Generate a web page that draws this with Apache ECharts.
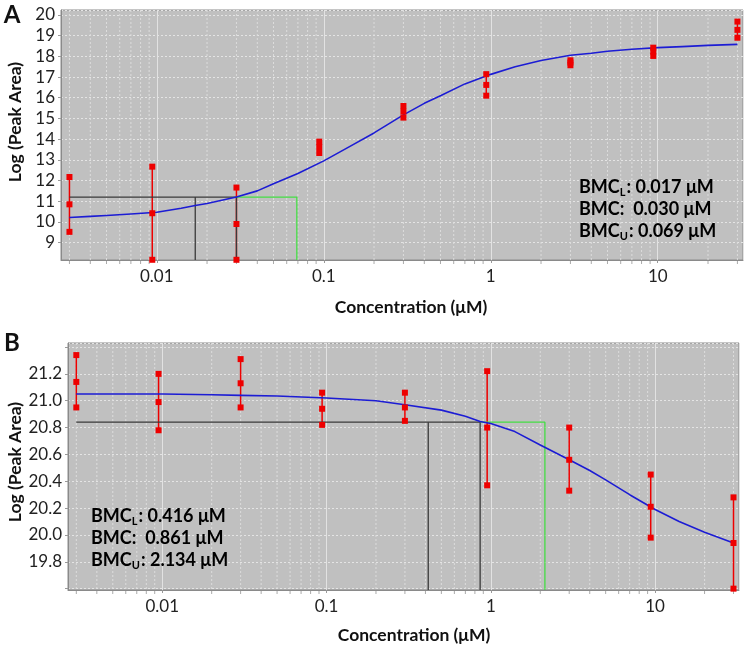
<!DOCTYPE html>
<html><head><meta charset="utf-8">
<script src="https://cdn.jsdelivr.net/npm/echarts@6/dist/echarts.min.js"></script>
<style>html,body{margin:0;padding:0;background:#fff}#c{width:750px;height:648px}</style>
</head><body><div id="c"></div><script>
// ---------- data ----------
const concA = [0.003, 0.0094, 0.03, 0.094, 0.3, 0.94, 3, 9.4, 30];
const repsA = [
  [12.17, 10.85, 9.52],
  [12.67, 10.42, 8.17],
  [11.66, 9.90, 8.17],
  [13.88, 13.62, 13.33],
  [15.60, 15.33, 15.04],
  [17.14, 16.62, 16.10],
  [17.81, 17.70, 17.57],
  [18.42, 18.23, 18.02],
  [19.68, 19.28, 18.90]
];
// fitted curve
const curveXA = [0.003, 0.004, 0.005, 0.007, 0.01, 0.014, 0.017, 0.02, 0.03, 0.04, 0.05, 0.07, 0.1, 0.14, 0.2, 0.3, 0.4, 0.5, 0.7, 1, 1.4, 2, 3, 4, 5, 7, 10, 14, 20, 30];
const curveYA = [10.21, 10.27, 10.31, 10.38, 10.47, 10.66, 10.79, 10.89, 11.2, 11.5, 11.84, 12.34, 12.95, 13.6, 14.3, 15.17, 15.73, 16.1, 16.67, 17.13, 17.5, 17.8, 18.05, 18.15, 18.25, 18.34, 18.42, 18.47, 18.53, 18.58];
const bmcA = [0.017, 0.030, 0.069];   // lower, BMC, upper
const bmrA = 11.2;

const concB = [0.003, 0.0095, 0.03, 0.094, 0.3, 0.95, 3, 9.4, 30];
const repsB = [
  [21.34, 21.14, 20.95],
  [21.20, 20.99, 20.78],
  [21.31, 21.13, 20.95],
  [21.06, 20.94, 20.82],
  [21.06, 20.95, 20.85],
  [21.22, 20.80, 20.37],
  [20.80, 20.56, 20.33],
  [20.45, 20.21, 19.98],
  [20.28, 19.94, 19.60]
];
const curveXB = [0.003, 0.005, 0.01, 0.02, 0.03, 0.05, 0.1, 0.2, 0.3, 0.5, 0.7, 0.861, 1, 1.4, 2, 3, 4, 5, 7, 10, 14, 20, 30];
const curveYB = [21.05, 21.05, 21.05, 21.045, 21.04, 21.035, 21.02, 21.0, 20.97, 20.93, 20.885, 20.845, 20.83, 20.77, 20.67, 20.56, 20.48, 20.41, 20.3, 20.19, 20.1, 20.02, 19.94];
const bmcB = [0.416, 0.861, 2.134];
const bmrB = 20.84;

const xTicks = [0.01, 0.1, 1, 10];
const xMinorTicks = [0.003,0.004,0.005,0.006,0.007,0.008,0.009,0.02,0.03,0.04,0.05,0.06,0.07,0.08,0.09,
  0.2,0.3,0.4,0.5,0.6,0.7,0.8,0.9,2,3,4,5,6,7,8,9,20,30];
const yTicksA = [9,10,11,12,13,14,15,16,17,18,19,20];
const yTicksB = [19.8,20.0,20.2,20.4,20.6,20.8,21.0,21.2];
const bmcTextA = ['0.017', '0.030', '0.069'];
const bmcTextB = ['0.416', '0.861', '2.134'];

// ---------- ranges ----------
const xRange = [0.00267, 32.4];
const yRangeA = [8.16, 20.24];
const yRangeB = [19.59, 21.43];

const FONT = 'Lato';
const RED = '#ee0000';
const chart = echarts.init(document.getElementById('c'), null, {renderer: 'canvas'});

function near(v, list) { return list.some(t => Math.abs(t - v) < 1e-6 * Math.max(1, Math.abs(t))); }

function xAxisCfg(gi) {
  return {
    type: 'log', logBase: 10, gridIndex: gi, min: xRange[0], max: xRange[1],
    axisLine: {show: true, lineStyle: {color: '#8a8a8a', width: 1}},
    axisTick: {show: true, length: 3, lineStyle: {color: '#999'}},
    axisLabel: {
      fontFamily: FONT, fontSize: 17, color: '#222', margin: 8,
      showMinLabel: false, showMaxLabel: false,
      formatter: v => near(v, xTicks) ? String(xTicks.find(t => Math.abs(t - v) < 1e-6 * Math.max(1, t))) : ''
    },
    splitLine: {show: true, lineStyle: {color: '#e2e2e2', width: 1, type: 'solid'}}
  };
}
function yAxisCfg(gi, range, ticks, step, dec) {
  return {
    type: 'value', gridIndex: gi, min: range[0], max: range[1],
    minInterval: step, maxInterval: step,
    axisLine: {show: true, lineStyle: {color: '#8a8a8a', width: 1}},
    axisTick: {show: true, length: 3, lineStyle: {color: '#999'}},
    axisLabel: {
      fontFamily: FONT, fontSize: 17, color: '#222', margin: 6,
      showMinLabel: false, showMaxLabel: false,
      formatter: v => near(v, ticks) ? v.toFixed(dec) : ''
    },
    splitLine: {show: true, lineStyle: {color: '#e4e4e4', width: 1, type: [2, 2]}}
  };
}

function minorGrid(i, yr) {
  return {
    type: 'custom', xAxisIndex: i, yAxisIndex: i, z: 1, silent: true, clip: false,
    data: xMinorTicks.map(v => [v]),
    renderItem: (params, api) => {
      const v = api.value(0);
      const top = api.coord([v, yr[1]]);
      const bot = api.coord([v, yr[0]]);
      return {type: 'group', children: [
        {type: 'line', shape: {x1: top[0], y1: top[1], x2: bot[0], y2: bot[1]},
          style: {stroke: '#dcdcdc', lineWidth: 1, lineDash: [2, 2]}},
        {type: 'line', shape: {x1: bot[0], y1: bot[1] + 1, x2: bot[0], y2: bot[1] + 4},
          style: {stroke: '#aaa', lineWidth: 1}}
      ]};
    }
  };
}
function errorBars(i, conc, reps) {
  return {
    type: 'custom', xAxisIndex: i, yAxisIndex: i, z: 3, silent: true,
    data: conc.map((c, k) => [c, Math.min(...reps[k]), Math.max(...reps[k])]),
    renderItem: (params, api) => {
      const p1 = api.coord([api.value(0), api.value(1)]);
      const p2 = api.coord([api.value(0), api.value(2)]);
      return {type: 'line', shape: {x1: p1[0], y1: p1[1], x2: p2[0], y2: p2[1]},
        style: {stroke: RED, lineWidth: 1.5}};
    }
  };
}
function seg(i, data, color, z) {
  return {type: 'line', xAxisIndex: i, yAxisIndex: i, data, symbol: 'none', silent: true, z: z || 4,
    lineStyle: {color, width: 1.3}, animation: false};
}
function panelSeries(i, conc, reps, cx, cy, bmc, bmr, yr) {
  const pts = [];
  conc.forEach((c, k) => reps[k].forEach(v => pts.push([c, v])));
  return [
    minorGrid(i, yr),
    errorBars(i, conc, reps),
    seg(i, [[conc[0], bmr], [bmc[1], bmr]], '#3a3a3a', 5),
    seg(i, [[bmc[0], bmr], [bmc[0], yr[0]]], '#3a3a3a', 5),
    seg(i, [[bmc[1], bmr], [bmc[1], yr[0]]], '#3a3a3a', 5),
    seg(i, [[bmc[1], bmr], [bmc[2], bmr], [bmc[2], yr[0]]], '#44dd44', 4),
    {type: 'line', xAxisIndex: i, yAxisIndex: i, data: cx.map((x, k) => [x, cy[k]]),
      symbol: 'none', smooth: false, silent: true, z: 6,
      lineStyle: {color: '#1c1cd4', width: 1.6, join: 'round'}},
    {type: 'scatter', xAxisIndex: i, yAxisIndex: i, data: pts, symbol: 'rect', symbolSize: 6,
      z: 7, silent: true, itemStyle: {color: RED, opacity: 1}}
  ];
}

function bmcText(x, y, vals) {
  const rich = {
    b: {fontFamily: FONT, fontWeight: 'bold', fontSize: 18, color: '#1a1a1a', lineHeight: 22},
    s: {fontFamily: FONT, fontWeight: 'bold', fontSize: 11, color: '#1a1a1a', lineHeight: 22, verticalAlign: 'bottom', padding: [0, 1, 0, 0]}
  };
  return {
    type: 'text', left: x, top: y, z: 20,
    style: {
      text: '{b|BMC}{s|L}{b|: ' + vals[0] + ' μM}\n{b|BMC:  ' + vals[1] + ' μM}\n{b|BMC}{s|U}{b|: ' + vals[2] + ' μM}',
      rich
    }
  };
}
function txt(x, y, s, size, rot) {
  return {type: 'text', x, y, rotation: rot || 0, z: 20,
    style: {text: s, fontFamily: FONT, fontWeight: 'bold', fontSize: size, fill: '#111', align: 'center', verticalAlign: 'middle'}};
}

const option = {
  animation: false,
  backgroundColor: '#ffffff',
  grid: [
    {left: 61, top: 10, width: 682, height: 250, show: true, backgroundColor: '#c0c0c0', borderColor: '#8c8c8c', borderWidth: 1},
    {left: 68, top: 343, width: 671, height: 247, show: true, backgroundColor: '#c0c0c0', borderColor: '#8c8c8c', borderWidth: 1}
  ],
  xAxis: [xAxisCfg(0), xAxisCfg(1)],
  yAxis: [yAxisCfg(0, yRangeA, yTicksA, 1, 0), yAxisCfg(1, yRangeB, yTicksB, 0.2, 1)],
  series: [
    ...panelSeries(0, concA, repsA, curveXA, curveYA, bmcA, bmrA, yRangeA),
    ...panelSeries(1, concB, repsB, curveXB, curveYB, bmcB, bmrB, yRangeB)
  ],
  graphic: [
    txt(12, 15, 'A', 24),
    txt(12, 343, 'B', 24),
    txt(15, 122, 'Log (Peak Area)', 17.5, Math.PI / 2),
    txt(15, 462, 'Log (Peak Area)', 17.5, Math.PI / 2),
    txt(411, 307, 'Concentration (μM)', 17.5),
    txt(414, 635, 'Concentration (μM)', 17.5),
    bmcText(579, 178, bmcTextA),
    bmcText(91, 507, bmcTextB)
  ]
};
chart.setOption(option);
</script></body></html>
